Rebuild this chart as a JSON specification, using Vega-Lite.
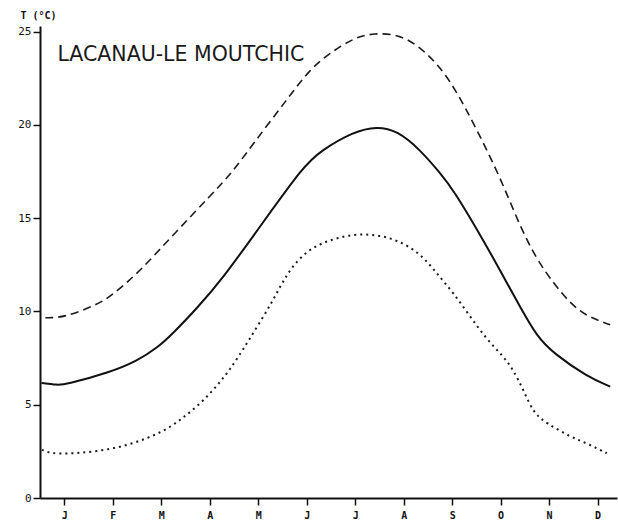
{
  "$schema": "https://vega.github.io/schema/vega-lite/v6.json",
  "width": 577,
  "height": 472,
  "autosize": "none",
  "padding": {"left": 40, "top": 26, "right": 1, "bottom": 32},
  "background": "white",
  "config": {"view": {"stroke": null}, "font": "DejaVu Sans"},
  "datasets": {
    "curves": [
      {"s": "mean", "m": 0.53, "t": 6.17}, {"s": "mean", "m": 0.86, "t": 6.06}, {"s": "mean", "m": 1.0, "t": 6.06},
      {"s": "mean", "m": 1.97, "t": 6.76}, {"s": "mean", "m": 2.5, "t": 7.35}, {"s": "mean", "m": 2.91, "t": 8.03}, {"s": "mean", "m": 3.25, "t": 8.84},
      {"s": "mean", "m": 3.74, "t": 10.18}, {"s": "mean", "m": 4.25, "t": 11.7}, {"s": "mean", "m": 5.08, "t": 14.7},
      {"s": "mean", "m": 5.93, "t": 17.77}, {"s": "mean", "m": 6.28, "t": 18.6}, {"s": "mean", "m": 6.97, "t": 19.65},
      {"s": "mean", "m": 7.45, "t": 19.92}, {"s": "mean", "m": 7.86, "t": 19.7}, {"s": "mean", "m": 8.34, "t": 18.67},
      {"s": "mean", "m": 8.75, "t": 17.42}, {"s": "mean", "m": 9.03, "t": 16.52}, {"s": "mean", "m": 9.72, "t": 13.48},
      {"s": "mean", "m": 10.13, "t": 11.52}, {"s": "mean", "m": 10.4, "t": 10.26}, {"s": "mean", "m": 10.75, "t": 8.65},
      {"s": "mean", "m": 11.09, "t": 7.76}, {"s": "mean", "m": 11.78, "t": 6.51}, {"s": "mean", "m": 12.26, "t": 5.97},

      {"s": "max", "m": 0.61, "t": 9.66}, {"s": "max", "m": 0.98, "t": 9.66}, {"s": "max", "m": 1.67, "t": 10.35},
      {"s": "max", "m": 1.95, "t": 10.8}, {"s": "max", "m": 2.36, "t": 11.7}, {"s": "max", "m": 2.64, "t": 12.4},
      {"s": "max", "m": 3.32, "t": 14.3}, {"s": "max", "m": 4.01, "t": 16.2}, {"s": "max", "m": 4.45, "t": 17.4},
      {"s": "max", "m": 4.9, "t": 19.0}, {"s": "max", "m": 5.59, "t": 21.35}, {"s": "max", "m": 6.07, "t": 23.0},
      {"s": "max", "m": 6.48, "t": 23.85}, {"s": "max", "m": 6.97, "t": 24.66}, {"s": "max", "m": 7.38, "t": 24.93},
      {"s": "max", "m": 7.93, "t": 24.84}, {"s": "max", "m": 8.34, "t": 24.15}, {"s": "max", "m": 8.68, "t": 23.3},
      {"s": "max", "m": 9.03, "t": 22.1}, {"s": "max", "m": 9.51, "t": 19.74}, {"s": "max", "m": 9.99, "t": 17.2},
      {"s": "max", "m": 10.4, "t": 14.55}, {"s": "max", "m": 10.75, "t": 12.77}, {"s": "max", "m": 11.09, "t": 11.52},
      {"s": "max", "m": 11.43, "t": 10.45}, {"s": "max", "m": 11.78, "t": 9.73}, {"s": "max", "m": 12.26, "t": 9.28},

      {"s": "min", "m": 0.54, "t": 2.58}, {"s": "min", "m": 0.71, "t": 2.4}, {"s": "min", "m": 0.99, "t": 2.36},
      {"s": "min", "m": 1.67, "t": 2.48}, {"s": "min", "m": 2.36, "t": 2.84}, {"s": "min", "m": 3.05, "t": 3.56},
      {"s": "min", "m": 3.39, "t": 4.18}, {"s": "min", "m": 3.74, "t": 4.9}, {"s": "min", "m": 4.08, "t": 5.79},
      {"s": "min", "m": 4.42, "t": 6.87}, {"s": "min", "m": 4.77, "t": 8.3}, {"s": "min", "m": 5.32, "t": 10.62},
      {"s": "min", "m": 5.59, "t": 12.05}, {"s": "min", "m": 6.0, "t": 13.3}, {"s": "min", "m": 6.48, "t": 13.84},
      {"s": "min", "m": 6.97, "t": 14.16}, {"s": "min", "m": 7.45, "t": 14.11}, {"s": "min", "m": 7.86, "t": 13.84},
      {"s": "min", "m": 8.34, "t": 13.13}, {"s": "min", "m": 8.68, "t": 12.05}, {"s": "min", "m": 9.03, "t": 10.98},
      {"s": "min", "m": 9.37, "t": 9.73}, {"s": "min", "m": 9.72, "t": 8.48}, {"s": "min", "m": 10.06, "t": 7.58},
      {"s": "min", "m": 10.26, "t": 6.87}, {"s": "min", "m": 10.47, "t": 5.79}, {"s": "min", "m": 10.68, "t": 4.54},
      {"s": "min", "m": 10.95, "t": 4.0}, {"s": "min", "m": 11.43, "t": 3.29}, {"s": "min", "m": 11.78, "t": 2.93},
      {"s": "min", "m": 12.19, "t": 2.4}
    ],
    "label": [{"m": 0.86, "t": 23.45, "text": "LACANAU-LE MOUTCHIC"}]
  },
  "data": {"name": "curves"},
  "encoding": {
    "x": {
      "field": "m", "type": "quantitative",
      "scale": {"domain": [0.5, 12.4], "nice": false, "zero": false},
      "axis": {
        "title": null, "grid": false,
        "values": [1, 2, 3, 4, 5, 6, 7, 8, 9, 10, 11, 12],
        "labelExpr": "['J','F','M','A','M','J','J','A','S','O','N','D'][datum.value - 1]",
        "domainColor": "#111", "domainWidth": 2,
        "tickColor": "#111", "tickWidth": 1.5, "tickSize": 7,
        "labelColor": "#111", "labelFontSize": 10, "labelFontWeight": "bold",
        "labelPadding": 5, "labelFont": "DejaVu Sans Mono"
      }
    },
    "y": {
      "field": "t", "type": "quantitative",
      "scale": {"domain": [0, 25.3], "nice": false},
      "axis": {
        "title": "T (°C)", "titleAngle": 0, "titleAlign": "left", "titleBaseline": "middle",
        "titleX": -20, "titleY": -11, "titleFontSize": 10, "titleFontWeight": "bold",
        "titleColor": "#111", "titleFont": "DejaVu Sans Mono",
        "grid": false, "values": [0, 5, 10, 15, 20, 25],
        "domainColor": "#111", "domainWidth": 2,
        "tickColor": "#111", "tickWidth": 1.5, "tickSize": 7,
        "labelColor": "#111", "labelFontSize": 11, "labelPadding": 2,
        "labelFont": "DejaVu Sans Mono"
      }
    }
  },
  "layer": [
    {
      "transform": [{"filter": "datum.s === 'max'"}],
      "mark": {"type": "line", "interpolate": "basis", "color": "#1a1a1a", "strokeWidth": 1.6, "strokeDash": [8, 5]}
    },
    {
      "transform": [{"filter": "datum.s === 'mean'"}],
      "mark": {"type": "line", "interpolate": "basis", "color": "#111", "strokeWidth": 2}
    },
    {
      "transform": [{"filter": "datum.s === 'min'"}],
      "mark": {"type": "line", "interpolate": "basis", "color": "#1a1a1a", "strokeWidth": 2, "strokeDash": [2, 4]}
    },
    {
      "data": {"name": "label"},
      "mark": {"type": "text", "align": "left", "baseline": "alphabetic", "fontSize": 20.5, "color": "#1a1a1a", "font": "DejaVu Sans"},
      "encoding": {"text": {"field": "text"}}
    }
  ]
}
